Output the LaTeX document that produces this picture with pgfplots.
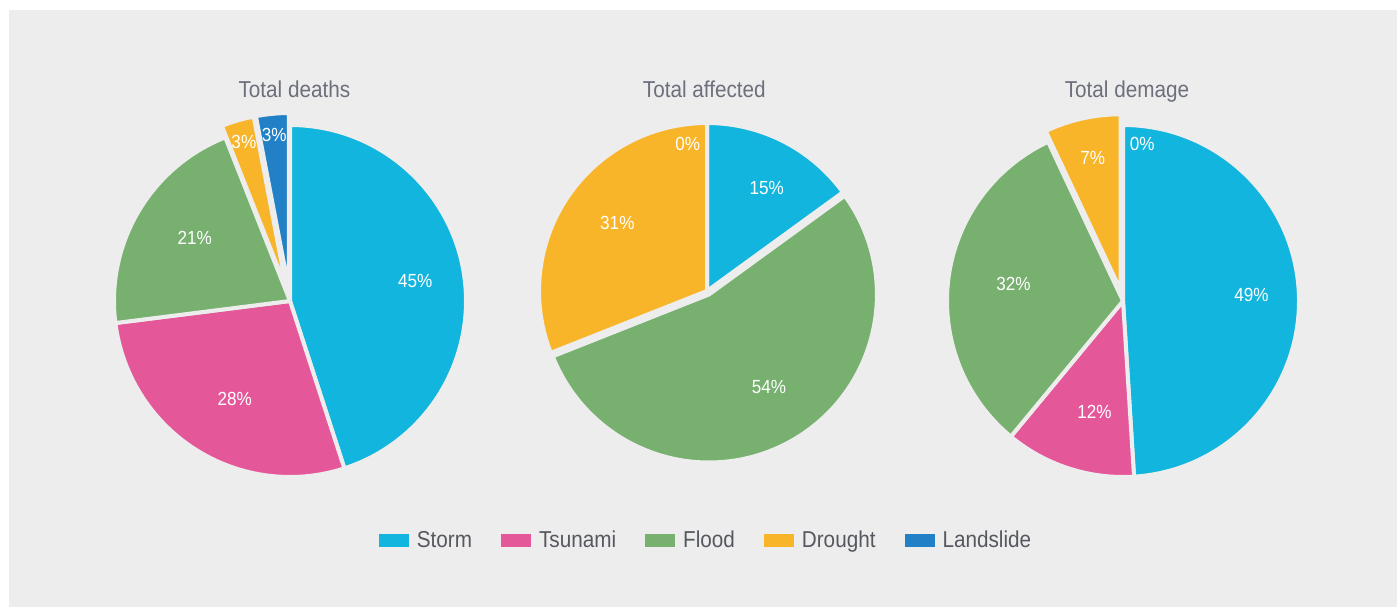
\documentclass[border=0pt]{standalone}
\usepackage{fontspec}
\setmainfont{Liberation Sans}[FakeStretch=0.9]
\usepackage{pgfplots}
\usepackage{pgfplotstable}
\pgfplotsset{compat=1.18}

\definecolor{bgc}{HTML}{EDEDED}
\definecolor{pc0}{HTML}{12B5DD}% Storm
\definecolor{pc1}{HTML}{E4589A}% Tsunami
\definecolor{pc2}{HTML}{77B06F}% Flood
\definecolor{pc3}{HTML}{F9B52A}% Drought
\definecolor{pc4}{HTML}{2180C6}% Landslide
\definecolor{titlec}{HTML}{6C6F7C}
\definecolor{legc}{HTML}{55585F}

% value = share in %, ex = explode (pt), lr = label radius (fraction of R), loff = label angle shift
\pgfplotstableread{
cat value ex lr loff
Storm 45 0 0.72 0
Tsunami 28 0 0.64 3
Flood 21 0 0.65 -3
Drought 3 6 0.94 0
Landslide 3 6 0.95 0
}\deaths
\pgfplotstableread{
cat value ex lr loff
Storm 15 0 0.71 -3
Tsunami 0 0 0.87 -8
Flood 54 2 0.68 4
Drought 31 0 0.67 -3
Landslide 0 0 0.88 7.5
}\affected
\pgfplotstableread{
cat value ex lr loff
Storm 49 0 0.73 0.7
Tsunami 12 0 0.65 3.6
Flood 32 0 0.63 -1.5
Drought 7 5.5 0.83 -0.6
Landslide 0 0 0.90 -7
}\damage

% draws the slices of one table inside the current axis (1 axis unit = 1pt)
\newcommand\drawpie[2]{%
  \def\cum{0}%
  \pgfplotsforeachungrouped \i in {0,...,4}{%
    \pgfplotstablegetelem{\i}{value}\of{#1}\let\v\pgfplotsretval
    \pgfplotstablegetelem{\i}{ex}\of{#1}\let\ex\pgfplotsretval
    \pgfplotstablegetelem{\i}{lr}\of{#1}\let\lr\pgfplotsretval
    \pgfplotstablegetelem{\i}{loff}\of{#1}\let\lo\pgfplotsretval
    \pgfmathsetmacro\a{90-3.6*\cum}%
    \pgfmathsetmacro\b{90-3.6*(\cum+\v)}%
    \pgfmathsetmacro\m{(\a+\b)/2}%
    \pgfmathsetmacro\la{\m+\lo}%
    \pgfmathsetmacro\lrr{\lr*#2}%
    \pgfmathsetmacro\cum{\cum+\v}%
    \ifdim\v pt>0pt
      \edef\tmp{\noexpand\fill[pc\i, draw=bgc, line width=2pt, line join=round]
        ([shift={(\m:\ex pt)}]axis cs:0,0) -- ++(\a:#2pt)
        arc[start angle=\a, end angle=\b, radius=#2pt] -- cycle;}\tmp
    \fi
    \edef\tmp{\noexpand\node[pct] at ([shift={(\la:\lrr pt)}]axis cs:0,0) {\v\noexpand\%};}\tmp
  }%
}

\tikzset{pct/.style={text=white, inner sep=0pt, font=\fontsize{9.5}{11}\selectfont}}
\pgfplotsset{
  every axis title shift=0pt,
  pie/.style={
    width=220pt, height=220pt, scale only axis,
    xmin=-110, xmax=110, ymin=-110, ymax=110,
    hide axis, clip=false, anchor=center,
    title style={font=\fontsize{11.5}{13}\selectfont, text=titlec, anchor=base},
  },
}

\begin{document}
\begin{tikzpicture}
\useasboundingbox (0,0) rectangle (698.5pt,303.5pt);
\fill[white] (0,0) rectangle (698.5pt,303.5pt);
\fill[bgc] (4.5pt,0) rectangle (698.5pt,298.5pt);

\begin{axis}[pie, at={(145pt,153pt)}, title={Total deaths},
  title style={at={(0.51,0.9636)}}]
  \drawpie{\deaths}{88}
\end{axis}

\begin{axis}[pie, at={(353.5pt,158pt)}, title={Total affected},
  title style={at={(0.494,0.9409)}},
  legend columns=5,
  legend image code/.code={\fill[#1] (0pt,-3.25pt) rectangle (15pt,3.25pt);},
  legend style={at={(0.5,-0.068)}, anchor=center, draw=none, fill=none,
    font=\fontsize{11.5}{13}\selectfont, text=legc,
    /tikz/every odd column/.append style={column sep=2pt},
    /tikz/every even column/.append style={column sep=12.5pt}},
]
  \drawpie{\affected}{84}
  \addlegendimage{fill=pc0, draw=none}
  \addlegendimage{fill=pc1, draw=none}
  \addlegendimage{fill=pc2, draw=none}
  \addlegendimage{fill=pc3, draw=none}
  \addlegendimage{fill=pc4, draw=none}
  \legend{Storm, Tsunami, Flood, Drought, Landslide}
\end{axis}

\begin{axis}[pie, at={(561.5pt,153pt)}, title={Total demage},
  title style={at={(0.509,0.9636)}}]
  \drawpie{\damage}{88}
\end{axis}
\end{tikzpicture}
\end{document}
